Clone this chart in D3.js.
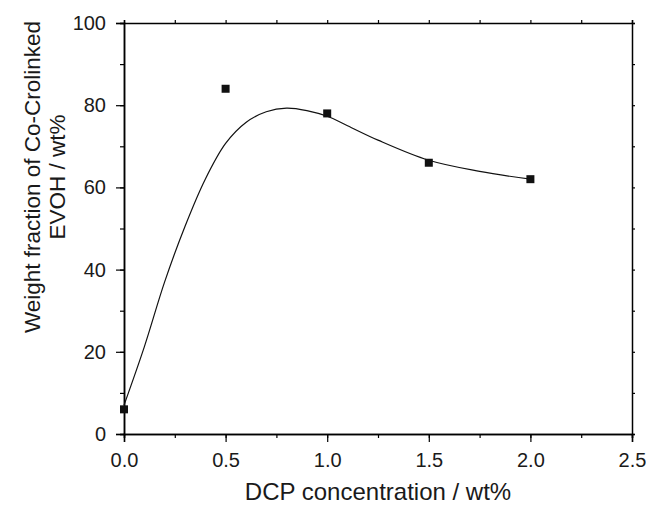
<!DOCTYPE html>
<html>
<head>
<meta charset="utf-8">
<script src="https://cdn.jsdelivr.net/npm/d3@7"></script>
<style>
  body { margin: 0; background: #fff; }
  svg { display: block; font-family: "Liberation Sans", Arial, sans-serif; }
</style>
</head>
<body>
<div id="chart"></div>
<script>
// measured points
const dcp = [0.0, 0.5, 1.0, 1.5, 2.0];
const fraction = [6, 84, 78, 66, 62];

// fitted curve
const fitX = [0.0, 0.1, 0.2, 0.3, 0.4, 0.5, 0.6, 0.7, 0.8, 0.9, 1.0, 1.1, 1.25, 1.5, 1.75, 2.0];
const fitY = [7, 21.2, 37, 50.5, 62, 70.7, 75.8, 78.4, 79.3, 78.7, 77.3, 75, 71.5, 66.6, 63.9, 62];

const xTicks = [0, 0.5, 1.0, 1.5, 2.0, 2.5];
const yTicks = [0, 20, 40, 60, 80, 100];

const width = 646, height = 505;
const margin = { top: 23, right: 14, bottom: 71, left: 124 };
const w = width - margin.left - margin.right;
const h = height - margin.top - margin.bottom;

const svg = d3.select("#chart").append("svg")
    .attr("width", width)
    .attr("height", height);

const g = svg.append("g")
    .attr("transform", `translate(${margin.left},${margin.top})`);

const x = d3.scaleLinear().domain([0, 2.5]).range([0, w]);
const y = d3.scaleLinear().domain([0, 100]).range([h, 0]);

const minorX = d3.range(0, 2.51, 0.25);
const minorY = d3.range(0, 101, 10);

function styleAxis(sel) {
    sel.select(".domain").attr("stroke", "#000").attr("stroke-width", 1.5);
    sel.selectAll(".tick line").attr("stroke", "#000").attr("stroke-width", 1.2);
    sel.selectAll(".tick text").attr("fill", "#1a1a1a").style("font-size", "20px");
}

// minor ticks (all four sides)
g.append("g").attr("transform", `translate(0,${h})`)
    .call(d3.axisBottom(x).tickValues(minorX).tickSize(4).tickFormat(""))
    .call(styleAxis);
g.append("g")
    .call(d3.axisLeft(y).tickValues(minorY).tickSize(4).tickFormat(""))
    .call(styleAxis);
g.append("g")
    .call(d3.axisTop(x).tickValues(minorX).tickSize(3).tickFormat(""))
    .call(styleAxis);
g.append("g").attr("transform", `translate(${w},0)`)
    .call(d3.axisRight(y).tickValues(minorY).tickSize(3).tickFormat(""))
    .call(styleAxis);

// major ticks with labels
g.append("g").attr("transform", `translate(0,${h})`)
    .call(d3.axisBottom(x).tickValues(xTicks).tickSize(8).tickPadding(11).tickFormat(d3.format(".1f")))
    .call(styleAxis);
g.append("g")
    .call(d3.axisLeft(y).tickValues(yTicks).tickSize(8).tickPadding(10).tickFormat(d3.format("d")))
    .call(styleAxis);

// fit curve
const fit = fitX.map((d, i) => [d, fitY[i]]);
g.append("path")
    .datum(fit)
    .attr("fill", "none")
    .attr("stroke", "#111")
    .attr("stroke-width", 1.2)
    .attr("d", d3.line().x(d => x(d[0])).y(d => y(d[1])).curve(d3.curveCatmullRom));

// square markers
const pts = dcp.map((d, i) => ({ x: d, y: fraction[i] }));
g.selectAll("rect.pt")
    .data(pts)
    .enter().append("rect")
    .attr("class", "pt")
    .attr("x", d => x(d.x) - 4)
    .attr("y", d => y(d.y) - 4)
    .attr("width", 8)
    .attr("height", 8)
    .attr("fill", "#111");

// axis titles
svg.append("text")
    .attr("x", 378)
    .attr("y", 500)
    .attr("text-anchor", "middle")
    .attr("fill", "#1a1a1a")
    .style("font-size", "24px")
    .text("DCP concentration / wt%");

const yt = svg.append("text")
    .attr("transform", "translate(40,177) rotate(-90)")
    .attr("text-anchor", "middle")
    .attr("fill", "#1a1a1a")
    .style("font-size", "22.5px");
yt.append("tspan").attr("x", 0).attr("y", 0).text("Weight fraction of Co-Crolinked");
yt.append("tspan").attr("x", 0).attr("y", 25).text("EVOH / wt%");
</script>
</body>
</html>
